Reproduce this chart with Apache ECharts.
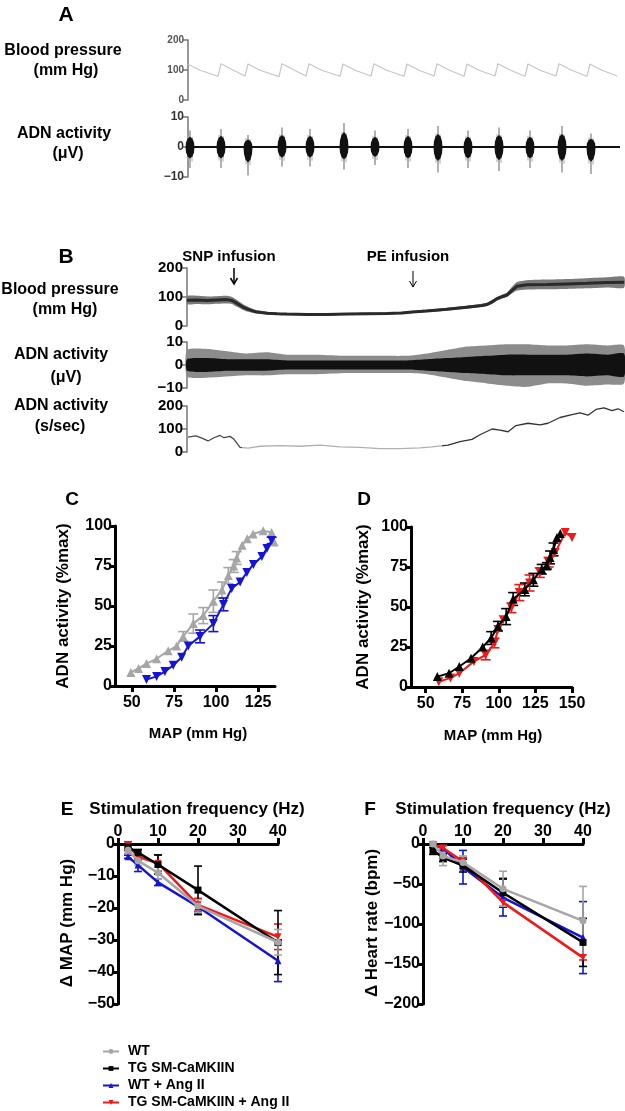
<!DOCTYPE html>
<html><head><meta charset="utf-8">
<script src="https://cdn.jsdelivr.net/npm/echarts@6/dist/echarts.min.js"></script>
<style>html,body{margin:0;padding:0;background:#fff}#c{width:625px;height:1111px}</style>
</head><body><div id="c"></div>
<script>
// ---------- Panel A ----------
var aBpT = [0,12,30, 33,45,57, 60,72,91, 94,106,118, 121,133,152, 155,167,183, 186,198,216, 219,231,246, 249,261,276, 279,291,307, 310,322,337, 340,352,368, 371,383,399, 402,414,429];
var aBpV = [119,99,79, 121,100,80, 120,99,78, 121,100,80, 121,100,79, 120,99,80, 121,100,79, 120,99,80, 121,100,79, 120,99,80, 121,100,79, 120,99,80, 121,100,79, 120,99,80];
var aAdnBaseT = [0, 432];
var aAdnBaseV = [0, 0];
var aBurstT = [2, 33, 60, 94, 122, 156, 187, 220, 250, 280, 311, 342, 374, 403];
var aBurstTop = [5.5, 6, 4, 6.5, 6, 8, 5.5, 6, 7, 5.5, 6.5, 5.5, 7, 4.5];
var aBurstBot = [-7, -7, -9.5, -6.5, -6.5, -7.5, -6, -7, -8.5, -7, -8, -7, -8.5, -9];

// ---------- Panel B ----------
var bBpT  = [0, 10, 20, 30, 40, 45, 50, 55, 60, 65, 70, 80, 90, 100, 120, 140, 160, 180, 200, 215, 225, 240, 260, 280, 295, 300, 305, 310, 315, 320, 325, 330, 340, 360, 380, 400, 420, 437];
var bBpHi = [103,104,102,103,104,100, 90, 78, 68, 60, 54, 49, 46, 45, 44, 44, 45, 46, 47, 49, 52, 57, 63, 71, 77, 80, 90,100,108,115,135,152,158,160,162,165,168,170];
var bBpLo = [ 75, 76, 75, 77, 78, 76, 66, 57, 50, 46, 43, 40, 38, 37, 37, 37, 38, 39, 40, 42, 44, 48, 53, 60, 66, 69, 76, 88, 95,100,112,122,126,127,128,130,133,132];
var bBpMid= [ 89, 90, 88, 90, 91, 88, 78, 67, 59, 53, 48, 44, 42, 41, 40, 40, 41, 42, 43, 45, 48, 52, 58, 65, 71, 74, 83, 94,101,107,123,137,142,143,145,147,150,151];
var bAdnT     = [0, 20, 40, 60, 80, 100, 130, 160, 190, 220, 240, 260, 280, 300, 320, 340, 360, 380, 400, 420, 437];
var bAdnOutHi = [6.5, 7, 6, 5, 5.5, 4.5, 4.5, 4, 4, 4, 5, 6.5, 8, 8.5, 9, 9, 8.5, 8.5, 9, 8.5, 8.5];
var bAdnOutLo = [-5, -5.5, -5, -4.5, -4.5, -4, -4, -3.5, -3.5, -3.5, -4, -5.5, -7, -8, -9, -9.5, -8, -8, -9, -8.5, -8];
var bAdnInHi  = [2.5, 3, 2.5, 2.5, 2.5, 2, 2, 2, 2, 2, 2.5, 3, 3.5, 4, 4.5, 4.5, 4.5, 4.5, 5, 4.5, 5];
var bAdnInLo  = [-2.5, -3, -2.5, -2.5, -2.5, -2, -2, -2, -2, -2, -2.5, -3, -3.5, -4, -4.5, -4.5, -4.5, -4.5, -5, -4.5, -5];
var bSpsT = [1, 9, 15, 21, 27, 33, 37, 43, 47, 53, 61, 73, 93, 113, 133, 153, 173, 193, 213, 233, 245, 261, 273, 285, 293, 305, 313, 321, 329, 341, 353, 361, 373, 385, 393, 401, 409, 417, 425, 431, 437];
var bSpsV = [65, 70, 60, 48, 62, 72, 62, 68, 55, 20, 17, 25, 28, 25, 30, 22, 20, 15, 15, 18, 22, 30, 45, 55, 75, 100, 95, 88, 115, 125, 118, 125, 150, 162, 170, 160, 185, 192, 180, 188, 175];

// ---------- Panel C ----------
var cWtMap = [49.4, 54, 58.7, 64.7, 71.6, 76.6, 80.5, 86.5, 92.4, 98.4, 103.5, 107.3, 110.5, 112.3, 115.5, 118.5, 122, 128, 133, 134.5];
var cWtAct = [8.5, 11, 14, 17, 22, 25, 31, 39, 44, 53, 60, 69, 75, 80, 88, 92, 95, 97, 96, 90];
var cWtErr = [0, 0, 0, 0, 0, 0, 3, 6, 5, 7, 5, 5, 4, 4, 0, 0, 0, 0, 0, 0];
var cAngMap = [58.7, 64.7, 69.6, 74.6, 79.6, 83.5, 90.5, 98.4, 104.4, 109.3, 114.3, 118.3, 122.2, 127.2, 130.2, 133];
var cAngAct = [4, 6, 9, 13, 18, 25, 31, 39, 51, 61, 65, 71, 76, 81, 86, 91];
var cAngErr = [0, 0, 0, 0, 0, 0, 4, 5, 4, 0, 0, 0, 0, 0, 0, 2];
var cXTicks = [50, 75, 100, 125];

// ---------- Panel D ----------
var dTgMap = [58, 66, 73, 81, 89, 94.8, 99.4, 105, 109.8, 117.8, 123.6, 129.3, 132.8, 135, 137.4, 139.7, 142];
var dTgAct = [6.5, 8.6, 12.8, 18, 25, 30.6, 38, 44, 55, 61, 67, 73.6, 75.7, 81, 86, 93.5, 96];
var dTgErr = [0, 0, 0, 0, 0, 4, 3, 5, 4, 4, 4, 3, 2, 4, 4, 0, 0];
var dAngMap = [59, 67, 73, 83, 91, 97, 99.4, 103, 108.6, 114, 121, 128, 134, 138.5, 145.4, 150];
var dAngAct = [3.3, 5.7, 8.6, 16, 20, 27.5, 36, 42, 49.5, 59, 65, 71.5, 78, 84, 96.6, 93.5];
var dAngErr = [0, 0, 0, 0, 3, 3, 0, 0, 3, 5, 5, 3, 3, 0, 0, 0];
var dXTicks = [50, 75, 100, 125, 150];

// ---------- Panels E / F ----------
var freqs = [2.5, 5, 10, 20, 40];
var seriesNames = ['WT', 'TG SM-CaMKIIN', 'WT + Ang II', 'TG SM-CaMKIIN + Ang II'];
var eWt = [-1.9, -5.2, -9, -19.4, -30.7],   eWtErr = [1, 1.5, 2, 2, 4];
var eTg = [-1, -2.7, -6.4, -14.4, -30.8],   eTgErr = [1, 1, 3, 7.5, 10];
var eWtAng = [-4, -6.6, -12, -19.6, -36.5], eWtAngErr = [0.5, 2, 1, 2.5, 6.5];
var eTgAng = [-0.3, -4, -6, -19, -29],      eTgAngErr = [1, 1, 2.5, 2, 4];
var fWt = [0, -15, -23, -56, -96],          fWtErr = [3, 12, 8, 22, 43];
var fTg = [-8, -17, -27, -61, -123],        fTgErr = [5, 5, 8, 18, 30];
var fWtAng = [-2, -5, -29, -67, -117],      fWtAngErr = [2, 3, 21, 23, 45];
var fTgAng = [-1, -5, -22, -73, -142],      fTgAngErr = [2, 3, 5, 5, 3];
var efXTicks = [0, 10, 20, 30, 40];

// ---------- styles ----------
var FF = "'Liberation Sans', Arial, Helvetica, sans-serif";
var COL = {wt: '#a6a6a6', tg: '#000000', wtAng: '#1414d6', tgAng: '#f01818'};

function zip(a, b) { return a.map(function (v, i) { return [v, b[i]]; }); }
function minusFmt(v) { return String(v).replace('-', '\u2212'); }

var chart = echarts.init(document.getElementById('c'), null, {renderer: 'canvas'});

var grids = [
  {left: 188, top: 40, width: 436, height: 60},   // 0 A BP
  {left: 188, top: 117, width: 436, height: 60},  // 1 A ADN
  {left: 187, top: 268, width: 437, height: 58},  // 2 B BP
  {left: 187, top: 342, width: 437, height: 46},  // 3 B ADN
  {left: 187, top: 406, width: 437, height: 46},  // 4 B s/sec
  {left: 115, top: 526, width: 160, height: 160}, // 5 C
  {left: 411, top: 527, width: 161, height: 160}, // 6 D
  {left: 118, top: 844, width: 160, height: 160}, // 7 E
  {left: 423, top: 844, width: 160, height: 160}  // 8 F
];

function hiddenX(gi, max) { return {type: 'value', gridIndex: gi, min: 0, max: max, show: false}; }
function traceY(gi, min, max, itv, fs, col) {
  return {type: 'value', gridIndex: gi, min: min, max: max, interval: itv,
    splitLine: {show: false},
    axisLine: {show: true, onZero: false, lineStyle: {color: '#777', width: 1.5}},
    axisTick: {show: true, length: 5, lineStyle: {color: '#777', width: 1.5}},
    axisLabel: {fontSize: fs, color: col, fontWeight: 'bold', fontFamily: FF, margin: 4, formatter: minusFmt}};
}
function sciX(gi, min, max, ticks, pos, margin) {
  return {type: 'value', gridIndex: gi, min: min, max: max, position: pos,
    splitLine: {show: false},
    axisLine: {show: true, onZero: false, lineStyle: {color: '#000', width: 3}},
    axisTick: {show: true, length: 6, customValues: ticks, lineStyle: {color: '#000', width: 3}},
    axisLabel: {customValues: ticks, fontSize: 16, color: '#000', fontWeight: 'bold', fontFamily: FF, margin: margin}};
}
function sciY(gi, min, max, itv) {
  return {type: 'value', gridIndex: gi, min: min, max: max, interval: itv,
    splitLine: {show: false},
    axisLine: {show: true, onZero: false, lineStyle: {color: '#000', width: 3}},
    axisTick: {show: true, length: 6, lineStyle: {color: '#000', width: 3}},
    axisLabel: {fontSize: 16, color: '#000', fontWeight: 'bold', fontFamily: FF, margin: 3, formatter: minusFmt}};
}

var xAxes = [hiddenX(0, 436), hiddenX(1, 436), hiddenX(2, 437), hiddenX(3, 437), hiddenX(4, 437),
  sciX(5, 40, 135, cXTicks, 'bottom', 9), sciX(6, 40, 150, dXTicks, 'bottom', 9),
  sciX(7, 0, 40, efXTicks, 'top', 4), sciX(8, 0, 40, efXTicks, 'top', 4)];
var yAxes = [traceY(0, 0, 200, 100, 10, '#555'), traceY(1, -10, 10, 10, 12, '#333'),
  traceY(2, 0, 200, 100, 15, '#000'), traceY(3, -10, 10, 10, 15, '#000'), traceY(4, 0, 200, 100, 15, '#000'),
  sciY(5, 0, 100, 25), sciY(6, 0, 100, 25), sciY(7, -50, 0, 10), sciY(8, -200, 0, 50)];

function bandSeries(gi, T, HI, LO, color, z) {
  return {type: 'custom', xAxisIndex: gi, yAxisIndex: gi, z: z, silent: true, clip: false,
    data: [[T[0], LO[0]]],
    renderItem: function (params, api) {
      var pts = [], i;
      for (i = 0; i < T.length; i++) pts.push(api.coord([T[i], HI[i]]));
      for (i = T.length - 1; i >= 0; i--) pts.push(api.coord([T[i], LO[i]]));
      return {type: 'polygon', shape: {points: pts, smooth: 0.2}, style: {fill: color}};
    }};
}
function errSeries(gi, X, Y, E, color, cap, z) {
  var data = [];
  X.forEach(function (x, i) { if (E[i] > 0) data.push([x, Y[i] - E[i], Y[i] + E[i]]); });
  return {type: 'custom', name: 'err', xAxisIndex: gi, yAxisIndex: gi, z: z, silent: true, data: data,
    encode: {x: 0, y: [1, 2]},
    renderItem: function (params, api) {
      var a = api.coord([api.value(0), api.value(1)]), b = api.coord([api.value(0), api.value(2)]);
      var st = {stroke: color, lineWidth: 1.6};
      return {type: 'group', children: [
        {type: 'line', shape: {x1: a[0], y1: a[1], x2: b[0], y2: b[1]}, style: st},
        {type: 'line', shape: {x1: a[0] - cap, y1: a[1], x2: a[0] + cap, y2: a[1]}, style: st},
        {type: 'line', shape: {x1: b[0] - cap, y1: b[1], x2: b[0] + cap, y2: b[1]}, style: st}]};
    }};
}
function dataLine(gi, name, X, Y, color, symbol, rot, size, width, z) {
  return {type: 'line', name: name, xAxisIndex: gi, yAxisIndex: gi, data: zip(X, Y), z: z,
    symbol: symbol, symbolRotate: rot, symbolSize: size, showSymbol: true,
    lineStyle: {color: color, width: width}, itemStyle: {color: color}, emphasis: {disabled: true}};
}

var series = [];
// A
series.push({type: 'line', xAxisIndex: 0, yAxisIndex: 0, data: zip(aBpT, aBpV), symbol: 'none',
  lineStyle: {color: '#c6c6c6', width: 1.2}, silent: true});
series.push({type: 'line', xAxisIndex: 1, yAxisIndex: 1, data: zip(aAdnBaseT, aAdnBaseV), symbol: 'none',
  lineStyle: {color: '#111', width: 2}, silent: true, z: 3});
series.push({type: 'custom', xAxisIndex: 1, yAxisIndex: 1, silent: true, z: 4,
  data: aBurstT.map(function (t, i) { return [t, aBurstTop[i], aBurstBot[i]]; }),
  renderItem: function (params, api) {
    var x = api.value(0), top = api.value(1), bot = api.value(2);
    var pT = api.coord([x, top]), pB = api.coord([x, bot]), p0 = api.coord([x, 0]);
    var cT = api.coord([x, top * 0.62]), cB = api.coord([x, bot * 0.55]);
    var cx = p0[0], cy = p0[1];
    var hT = cT[1], hB = cB[1];
    var fuzz = {stroke: '#a8a8a8', lineWidth: 1};
    return {type: 'group', children: [
      {type: 'line', shape: {x1: cx, y1: pT[1], x2: cx, y2: pB[1]}, style: {stroke: '#888', lineWidth: 1.3}},
      {type: 'line', shape: {x1: cx - 2, y1: (cy + pT[1]) / 2 - 3, x2: cx - 2, y2: (cy + pB[1]) / 2 + 3}, style: fuzz},
      {type: 'line', shape: {x1: cx + 2, y1: (cy + pT[1]) / 2 - 2, x2: cx + 2, y2: (cy + pB[1]) / 2 + 4}, style: fuzz},
      {type: 'polygon', shape: {points: [
        [cx - 4.5, cy], [cx - 4, cy - (cy - hT) * 0.45], [cx - 2.5, cy - (cy - hT) * 0.8], [cx, hT],
        [cx + 2.5, cy - (cy - hT) * 0.8], [cx + 4, cy - (cy - hT) * 0.45], [cx + 4.5, cy],
        [cx + 4, cy + (hB - cy) * 0.45], [cx + 2.5, cy + (hB - cy) * 0.8], [cx, hB],
        [cx - 2.5, cy + (hB - cy) * 0.8], [cx - 4, cy + (hB - cy) * 0.45]]}, style: {fill: '#111'}}]};
  }});
// B
series.push(bandSeries(2, bBpT, bBpHi, bBpLo, '#7a7a7a', 2));
series.push({type: 'line', xAxisIndex: 2, yAxisIndex: 2, data: zip(bBpT, bBpMid), symbol: 'none',
  lineStyle: {color: '#2a2a2a', width: 3}, silent: true, z: 3});
series.push(bandSeries(3, bAdnT, bAdnOutHi, bAdnOutLo, '#8c8c8c', 2));
series.push(bandSeries(3, bAdnT, bAdnInHi, bAdnInLo, '#111111', 3));
var spsIndex = series.length;
series.push({type: 'line', xAxisIndex: 4, yAxisIndex: 4, data: zip(bSpsT, bSpsV), symbol: 'none',
  lineStyle: {width: 1.3}, silent: true});
// C
series.push(errSeries(5, cWtMap, cWtAct, cWtErr, COL.wt, 5, 2));
series.push(errSeries(5, cAngMap, cAngAct, cAngErr, COL.wtAng, 5, 2));
series.push(dataLine(5, 'cWT', cWtMap, cWtAct, COL.wt, 'triangle', 0, 9, 2, 3));
series.push(dataLine(5, 'cAng', cAngMap, cAngAct, COL.wtAng, 'triangle', 180, 9, 2, 4));
// D
series.push(errSeries(6, dAngMap, dAngAct, dAngErr, COL.tgAng, 5, 2));
series.push(errSeries(6, dTgMap, dTgAct, dTgErr, COL.tg, 5, 2));
series.push(dataLine(6, 'dAng', dAngMap, dAngAct, COL.tgAng, 'triangle', 180, 9, 2, 3));
series.push(dataLine(6, 'dTg', dTgMap, dTgAct, COL.tg, 'triangle', 0, 9, 2, 4));
// E, F
[[7, [eWtAng, eTgAng, eTg, eWt], [eWtAngErr, eTgAngErr, eTgErr, eWtErr]],
 [8, [fWtAng, fTgAng, fTg, fWt], [fWtAngErr, fTgAngErr, fTgErr, fWtErr]]].forEach(function (p) {
  var gi = p[0];
  var names = [seriesNames[2], seriesNames[3], seriesNames[1], seriesNames[0]];
  var cols = [COL.wtAng, COL.tgAng, COL.tg, COL.wt];
  var syms = ['triangle', 'triangle', 'rect', 'circle'];
  var rots = [0, 180, 0, 0];
  for (var k = 0; k < 4; k++) series.push(errSeries(gi, freqs, p[1][k], p[2][k], cols[k], 4, 2 + k));
  for (var k2 = 0; k2 < 4; k2++) series.push(dataLine(gi, names[k2], freqs, p[1][k2], cols[k2], syms[k2], rots[k2], 7, 2.5, 10 + k2));
});

function txt(x, y, s, size, extra) {
  return Object.assign({type: 'text', x: x, y: y, silent: true,
    style: {text: s, fontSize: size, fontWeight: 'bold', fontFamily: FF, fill: '#000', align: 'center', verticalAlign: 'middle'}}, extra || {});
}
function vtxt(x, y, s, size) {
  return {type: 'text', x: x, y: y, rotation: Math.PI / 2, silent: true,
    style: {text: s, fontSize: size, fontWeight: 'bold', fontFamily: FF, fill: '#000', align: 'center', verticalAlign: 'middle'}};
}
function arrow(x, y1, y2, w) {
  return {type: 'group', silent: true, children: [
    {type: 'line', shape: {x1: x, y1: y1, x2: x, y2: y2}, style: {stroke: '#000', lineWidth: w}},
    {type: 'polyline', shape: {points: [[x - 3.5, y2 - 6], [x, y2], [x + 3.5, y2 - 6]]}, style: {stroke: '#000', lineWidth: w, fill: null}}]};
}

var graphics = [
  txt(66, 15, 'A', 21), txt(66, 257, 'B', 21), txt(72, 500, 'C', 19), txt(364, 500, 'D', 19),
  txt(67, 810, 'E', 19), txt(370, 810, 'F', 19),
  txt(63, 51, 'Blood pressure', 16), txt(66, 71, '(mm Hg)', 16),
  txt(64, 134, 'ADN activity', 16), txt(68, 154, '(\u03bcV)', 16),
  txt(229, 257, 'SNP infusion', 15), txt(408, 257, 'PE infusion', 15),
  arrow(234, 268, 284, 1.5), arrow(413, 271, 287, 1),
  txt(60, 290, 'Blood pressure', 16), txt(65, 310, '(mm Hg)', 16),
  txt(61, 355, 'ADN activity', 16), txt(66, 378, '(\u03bcV)', 16),
  txt(61, 406, 'ADN activity', 16), txt(60, 427, '(s/sec)', 16),
  vtxt(63, 606, 'ADN activity (%max)', 17), vtxt(363, 607, 'ADN activity (%max)', 17),
  txt(198, 734, 'MAP (mm Hg)', 15), txt(493, 736, 'MAP (mm Hg)', 15),
  txt(197, 809, 'Stimulation frequency (Hz)', 17), txt(503, 809, 'Stimulation frequency (Hz)', 17),
  vtxt(67, 923, '\u0394 MAP (mm Hg)', 17), vtxt(372, 923, '\u0394 Heart rate (bpm)', 17)
];

var option = {
  animation: false,
  backgroundColor: '#fff',
  textStyle: {fontFamily: FF},
  grid: grids,
  xAxis: xAxes,
  yAxis: yAxes,
  visualMap: [{type: 'piecewise', show: false, dimension: 0, seriesIndex: spsIndex,
    pieces: [{lt: 55, color: '#474747'}, {gte: 55, lt: 255, color: '#b0b0b0'}, {gte: 255, color: '#333333'}]}],
  legend: {orient: 'vertical', left: 102, top: 1044, padding: 0, itemWidth: 16, itemHeight: 6, itemGap: 2,
    data: seriesNames.map(function (n) { return {name: n}; }),
    textStyle: {fontSize: 14, lineHeight: 15, fontWeight: 'bold', fontFamily: FF, color: '#000', padding: [0, 0, 0, 4]},
    selectedMode: false},
  series: series,
  graphic: graphics
};
chart.setOption(option);
</script></body></html>
